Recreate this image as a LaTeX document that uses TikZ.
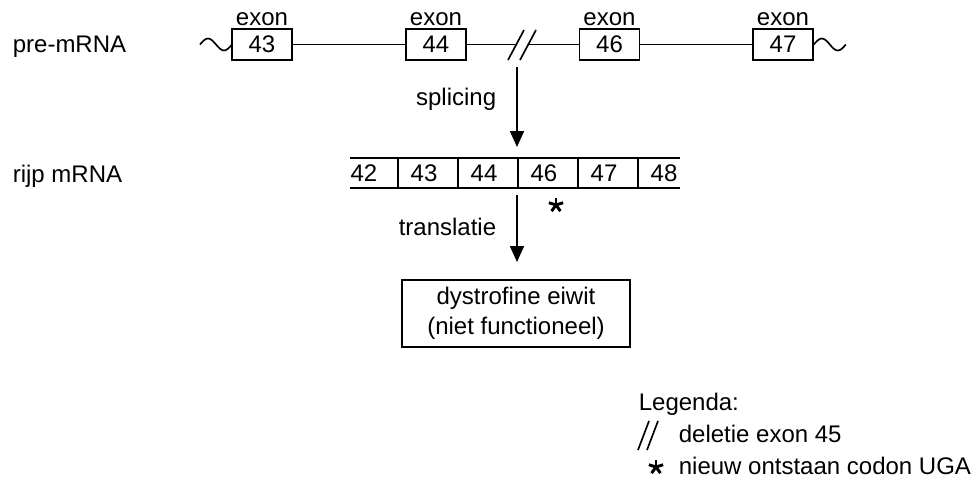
\documentclass[tikz,border=0pt]{standalone}
\usepackage{fontspec}
\setmainfont{Liberation Sans}
\usetikzlibrary{arrows.meta}
\begin{document}
\begin{tikzpicture}[x=0.75pt,y=-0.75pt, line width=1.25pt,
  font=\fontsize{18}{21}\selectfont,
  exonbox/.style={draw, minimum width=45pt, minimum height=23.25pt, inner sep=0pt},
  lbl/.style={anchor=base, inner sep=0pt},
  lblw/.style={anchor=base west, inner sep=0pt},
  num/.style={inner sep=0pt},
  arr/.style={-{Triangle[width=10.5pt,length=12pt]}},
  astx/.pic={
    \draw[line width=2.2pt] (0,0) -- (0,-7.5);
    \draw[line width=2.2pt] (0,0) -- (7.1,-2.3);
    \draw[line width=2.2pt] (0,0) -- (-7.1,-2.3);
    \draw[line width=2.2pt] (0,0) -- (4.4,6.1);
    \draw[line width=2.2pt] (0,0) -- (-4.4,6.1);
  }]
\useasboundingbox (0,0) rectangle (972,483);

% side labels
\node[lblw] (lpre) at (12,52) {pre-mRNA};
\node[lblw] (lrijp) at (12,182) {rijp mRNA};

% pre-mRNA exons
\node[exonbox] (e43) at (262,44.5) {43};
\node[exonbox] (e44) at (436,44.5) {44};
\node[exonbox] (e46) at (609.5,44.5) {46};
\node[exonbox] (e47) at (783,44.5) {47};
\node[lbl] (x43) at (262,25) {exon};
\node[lbl] (x44) at (436,25) {exon};
\node[lbl] (x46) at (609.5,25) {exon};
\node[lbl] (x47) at (783,25) {exon};

\coordinate (cutL) at (515,44.5);
\coordinate (cutR) at (528,44.5);
\coordinate (wL) at (200,44.5);
\draw (e43.east) -- (e44.west);
\draw (e44.east) -- (cutL);
\draw (cutR) -- (e46.west);
\draw (e46.east) -- (e47.west);
\draw (wL) sin ++(8,-6) cos ++(8,6) sin ++(8,6) cos ++(8,-6);
\draw (e47.east) sin ++(8,-6) cos ++(8,6) sin ++(8,6) cos ++(8,-6);
% deletion mark
\draw (508,60) -- (524,30);
\draw (520,60) -- (536,30);

% splicing arrow
\coordinate (s1) at (517,67);
\coordinate (t1) at (517,147);
\draw[arr] (s1) -- (t1);
\node[anchor=base east, inner sep=0pt] (lspl) at (497,105) {splicing};

% mature mRNA
\draw (350,158) -- (680,158);
\draw (350,188) -- (680,188);
\foreach \sx in {398,458,518,578,638} \draw (\sx,158) -- (\sx,188);
\node[num] (m42) at (364,173) {42};
\node[num] (m43) at (424,173) {43};
\node[num] (m44) at (484,173) {44};
\node[num] (m46) at (544,173) {46};
\node[num] (m47) at (604,173) {47};
\node[num] (m48) at (664,173) {48};
\pic at (556,205) {astx};

% translation arrow
\coordinate (s2) at (517,195);
\coordinate (t2) at (517,262);
\draw[arr] (s2) -- (t2);
\node[anchor=base east, inner sep=0pt] (ltr) at (497,235) {translatie};

% protein
\node[draw, minimum width=171pt, minimum height=50.25pt, align=center, inner sep=0pt] (prot) at (516,313.5) {dystrofine eiwit\\[1.5pt](niet functioneel)};

% legend
\node[lblw] (leg) at (638,410) {Legenda:};
\draw (638,450) -- (649,421);
\draw (647,450) -- (658,421);
\node[lblw] (leg1) at (678,442) {deletie exon 45};
\pic at (656,467) {astx};
\node[lblw] (leg2) at (678,474) {nieuw ontstaan codon UGA};
\end{tikzpicture}
\end{document}
